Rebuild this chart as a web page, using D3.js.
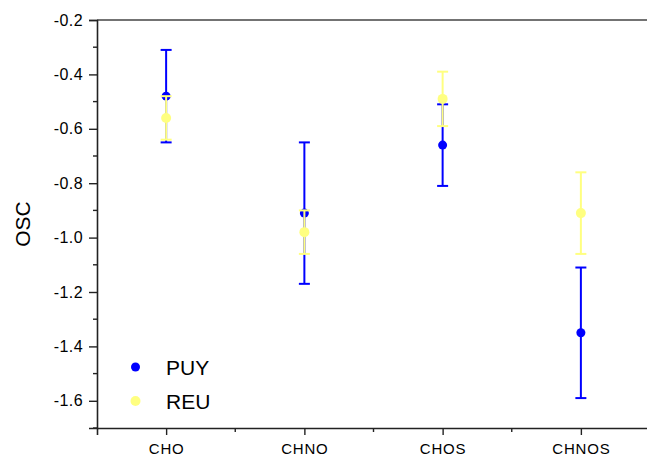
<!DOCTYPE html>
<html>
<head>
<meta charset="utf-8">
<script src="https://cdn.jsdelivr.net/npm/d3@7"></script>
<style>
  html, body { margin: 0; padding: 0; background: #fff; }
  svg { display: block; }
  text { font-family: "Liberation Sans", Arial, sans-serif; fill: #000; }
</style>
</head>
<body>
<script>
const categories = ["CHO", "CHNO", "CHOS", "CHNOS"];
const puyMean = [-0.48, -0.91, -0.66, -1.35];
const puyErr  = [0.17, 0.26, 0.15, 0.24];
const reuMean = [-0.56, -0.98, -0.49, -0.91];
const reuErr  = [0.08, 0.08, 0.10, 0.15];
const yTickValues = [-1.6, -1.4, -1.2, -1.0, -0.8, -0.6, -0.4, -0.2];
const yMinorValues = [-1.7, -1.5, -1.3, -1.1, -0.9, -0.7, -0.5, -0.3];
const seriesNames = ["PUY", "REU"];
const seriesColors = ["#0000ff", "#ffff80"];

(function () {
const W = 647, H = 457;
const mLeft = 97, mTop = 20, mBottom = 428, mRight = 650;

const svg = d3.select("body").append("svg").attr("width", W).attr("height", H);

const x = d3.scaleLinear().domain([0.5, 4.5]).range([mLeft, mRight]);
const y = d3.scaleLinear().domain([-1.7, -0.2]).range([mBottom, mTop]);

const axisColor = "#222";

// Top border line
svg.append("line").attr("x1", mLeft).attr("x2", mRight).attr("y1", mTop).attr("y2", mTop)
  .attr("stroke", "#444").attr("stroke-width", 1.6);

// Y axis
const yAxis = svg.append("g").attr("transform", `translate(${mLeft},0)`)
  .call(d3.axisLeft(y).tickValues(yTickValues).tickFormat(d => d3.format(".1f")(d).replace("\u2212", "-")).tickSize(8).tickPadding(6));
yAxis.attr("font-size", null).attr("font-family", null);
yAxis.select(".domain").attr("stroke", axisColor).attr("stroke-width", 1.6);
yAxis.selectAll(".tick line").attr("stroke", axisColor).attr("stroke-width", 1.4);
yAxis.selectAll(".tick text").style("font-size", "16px").attr("letter-spacing", "0.4px")
  .style("font-family", "'Liberation Sans', Arial, sans-serif").attr("fill", "#000");
svg.append("g").selectAll("line").data(yMinorValues).join("line")
  .attr("x1", mLeft - 4).attr("x2", mLeft).attr("y1", d => y(d)).attr("y2", d => y(d))
  .attr("stroke", axisColor).attr("stroke-width", 1.4);

// X axis
const xAxis = svg.append("g").attr("transform", `translate(0,${mBottom})`)
  .call(d3.axisBottom(x).tickValues([1, 2, 3, 4]).tickFormat((d, i) => categories[i]).tickSize(7).tickPadding(8));
xAxis.attr("font-size", null).attr("font-family", null);
xAxis.select(".domain").attr("stroke", axisColor).attr("stroke-width", 1.6);
xAxis.selectAll(".tick line").attr("stroke", axisColor).attr("stroke-width", 1.4);
xAxis.selectAll(".tick text").style("font-size", "15px").attr("letter-spacing", "0.8px")
  .style("font-family", "'Liberation Sans', Arial, sans-serif").attr("fill", "#000");
svg.append("g").selectAll("line").data([1.5, 2.5, 3.5]).join("line")
  .attr("x1", d => x(d)).attr("x2", d => x(d)).attr("y1", mBottom).attr("y2", mBottom + 4)
  .attr("stroke", axisColor).attr("stroke-width", 1.4);

// Y label
svg.append("text").attr("transform", `translate(30,${(mTop + mBottom) / 2}) rotate(-90)`)
  .attr("text-anchor", "middle").style("font-size", "21px").text("OSC");

// Series
const series = [
  { name: seriesNames[0], mean: puyMean, err: puyErr, color: seriesColors[0], r: 4.5 },
  { name: seriesNames[1], mean: reuMean, err: reuErr, color: seriesColors[1], r: 5 }
];
const capHalf = 5.5;
series.forEach(s => {
  const g = svg.append("g");
  const data = categories.map((c, i) => ({ i: i + 1, m: s.mean[i], e: s.err[i] }));
  g.selectAll("line.v").data(data).join("line").attr("class", "v")
    .attr("x1", d => x(d.i)).attr("x2", d => x(d.i))
    .attr("y1", d => y(d.m + d.e)).attr("y2", d => y(d.m - d.e))
    .attr("stroke", s.color).attr("stroke-width", 2);
  g.selectAll("line.ct").data(data).join("line").attr("class", "ct")
    .attr("x1", d => x(d.i) - capHalf).attr("x2", d => x(d.i) + capHalf)
    .attr("y1", d => y(d.m + d.e)).attr("y2", d => y(d.m + d.e))
    .attr("stroke", s.color).attr("stroke-width", 2);
  g.selectAll("line.cb").data(data).join("line").attr("class", "cb")
    .attr("x1", d => x(d.i) - capHalf).attr("x2", d => x(d.i) + capHalf)
    .attr("y1", d => y(d.m - d.e)).attr("y2", d => y(d.m - d.e))
    .attr("stroke", s.color).attr("stroke-width", 2);
  g.selectAll("circle").data(data).join("circle")
    .attr("cx", d => x(d.i)).attr("cy", d => y(d.m)).attr("r", s.r)
    .attr("fill", s.color);
});

// Legend
const legend = svg.append("g");
series.forEach((s, i) => {
  const cy = 367 + i * 34;
  legend.append("circle").attr("cx", 135.5).attr("cy", cy).attr("r", s.r).attr("fill", s.color);
  legend.append("text").attr("x", 166).attr("y", cy + 8).style("font-size", "21px").text(s.name);
});
})();
</script>
</body>
</html>
